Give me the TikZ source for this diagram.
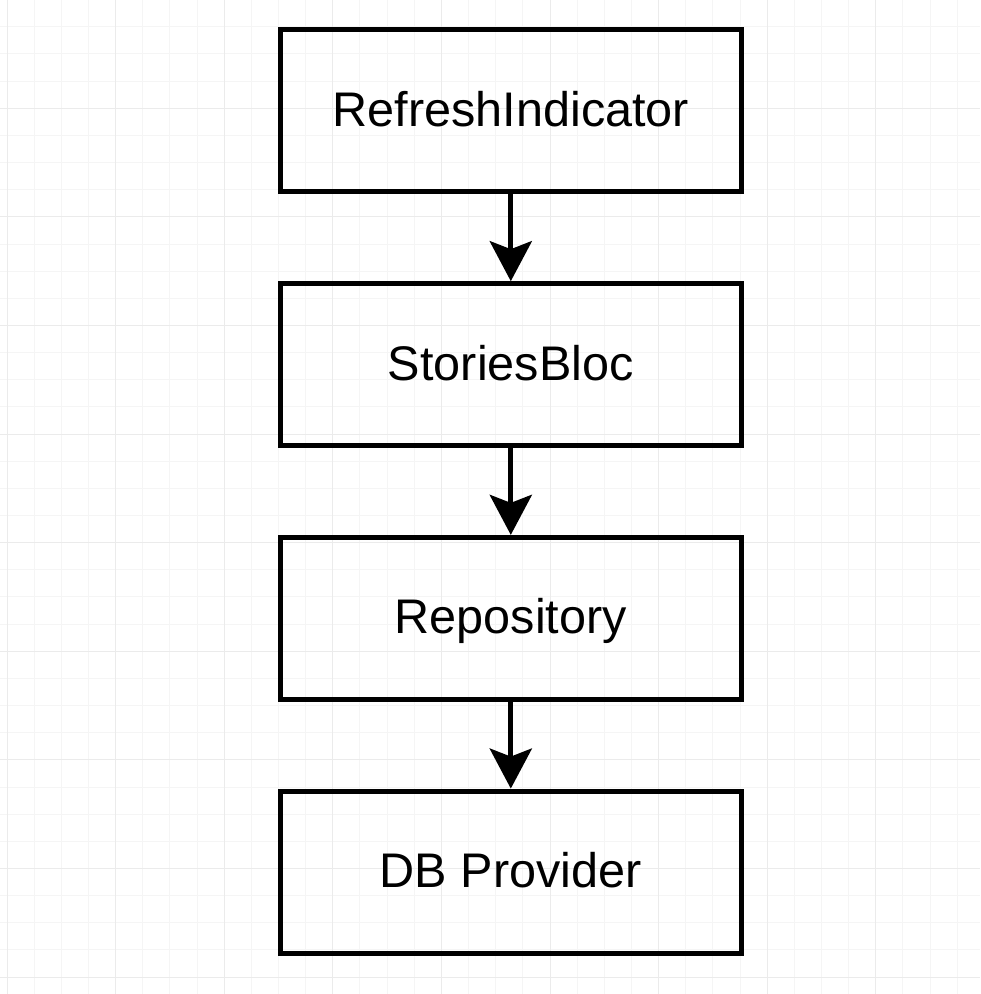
\documentclass[tikz,border=0pt]{standalone}
\usepackage{fontspec}
\setmainfont{Liberation Sans}
\usetikzlibrary{positioning,arrows.meta}

\begin{document}
\begin{tikzpicture}[every node/.style = {shape=rectangle, draw, line width=2.5pt,
		align=center, minimum width=230.75pt, minimum height=81pt,
		text height=17.4pt, text depth=2pt,
		font=\fontsize{24.3}{28}\selectfont},
node distance=43.35pt,
flow/.style={line width=2.5pt, -{Stealth[length=20pt, width=21pt, inset=4pt]}}]
	\useasboundingbox (0,0) rectangle (490pt,497pt);
	% background grid
	\draw[gray!8, line width=0.5pt, shift={(3.5pt,8.45pt)}, step=13.575pt] (-3.5pt,-8.45pt) grid (486.5pt,488.55pt);
	\draw[gray!16, line width=0.5pt, shift={(3.5pt,8.45pt)}, step=54.3pt] (-3.5pt,-8.45pt) grid (486.5pt,488.55pt);
	\node (refresh) at (255.4pt,441.5pt) {RefreshIndicator};
	\node (bloc) [below=of refresh] {StoriesBloc};
	\node (repo) [below=of bloc] {Repository};
	\node (db) [below=of repo] {DB Provider};
	\draw[flow] (refresh) -- (bloc);
	\draw[flow] (bloc) -- (repo);
	\draw[flow] (repo) -- (db);
\end{tikzpicture}
\end{document}
